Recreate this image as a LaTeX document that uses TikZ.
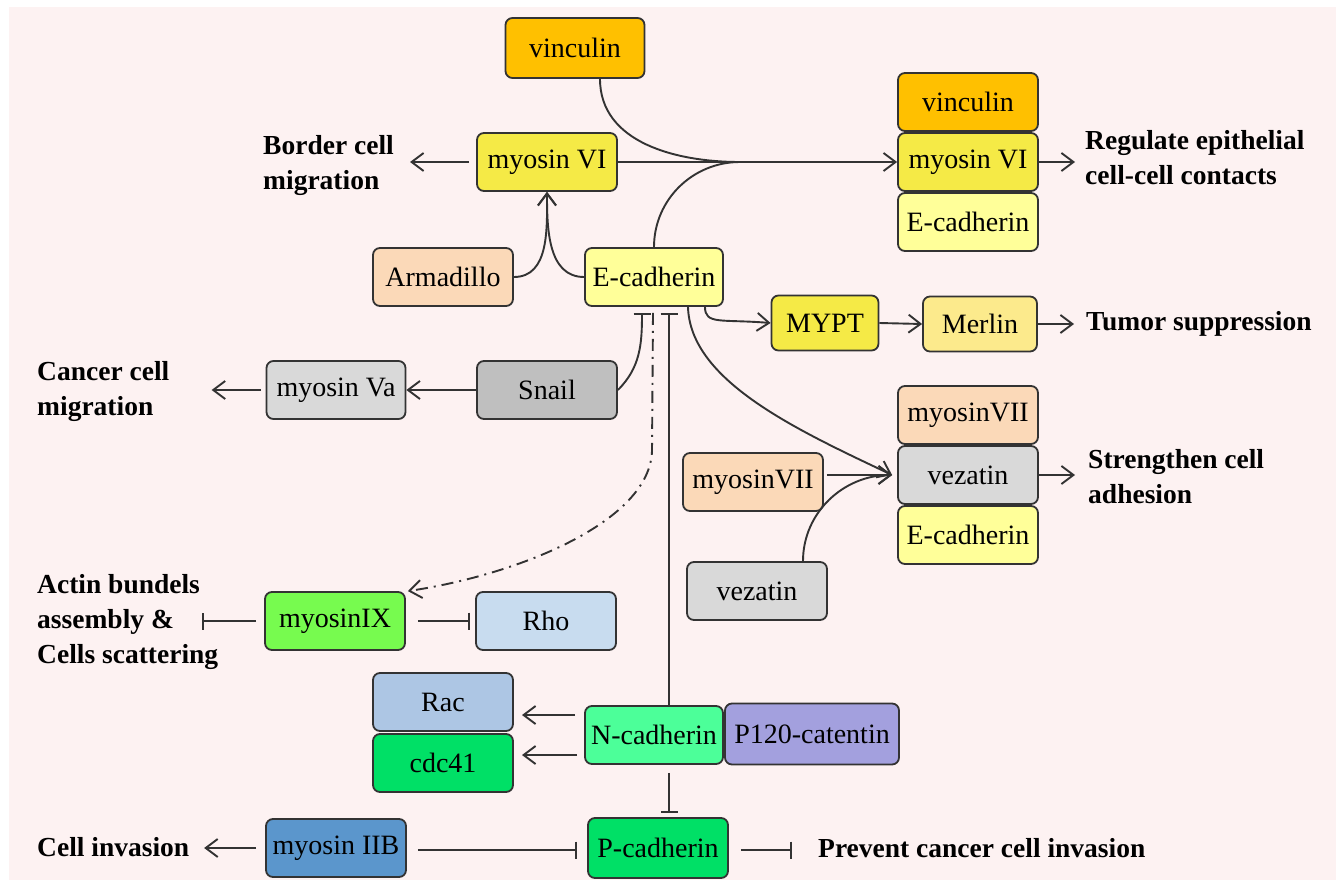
\documentclass[tikz,border=0pt]{standalone}
\usepackage{fontspec}
\setmainfont{Liberation Serif}
\usetikzlibrary{arrows.meta}
\definecolor{bg}{HTML}{FDF2F2}
\definecolor{cVin}{HTML}{FFC000}
\definecolor{cMySix}{HTML}{F5EA46}
\definecolor{cEcad}{HTML}{FFFF99}
\definecolor{cMerlin}{HTML}{FCEA8C}
\definecolor{cPeach}{HTML}{FBD9B8}
\definecolor{cSnail}{HTML}{BFBFBF}
\definecolor{cGray}{HTML}{D9D9D9}
\definecolor{cMyNine}{HTML}{77FB4F}
\definecolor{cRho}{HTML}{C8DCEF}
\definecolor{cRac}{HTML}{ADC6E4}
\definecolor{cGreen}{HTML}{00E066}
\definecolor{cNcad}{HTML}{4CFF99}
\definecolor{cPone}{HTML}{A3A0DE}
\definecolor{cMyIIB}{HTML}{5B96CC}
\definecolor{cLine}{HTML}{333333}
\begin{document}
\begin{tikzpicture}[x=1pt,y=-1pt,
  box/.style={draw=cLine, line width=1.8pt, rounded corners=7pt, minimum width=140pt,
    minimum height=58pt, inner sep=0pt, font=\fontsize{28}{30}\selectfont},
  lbl/.style={font=\fontsize{27.5}{35}\selectfont\bfseries, align=left, anchor=west, inner sep=0pt},
  conn/.style={line width=1.9pt, draw=cLine},
  ar/.style={conn, -{Straight Barb[length=12pt,width=18pt]}},
  inh/.style={conn, -{Bar[width=17pt]}},
  dd/.style={conn, dash pattern=on 12pt off 6pt on 2pt off 6pt, -{Straight Barb[length=12pt,width=18pt]}}]
\useasboundingbox (0,0) rectangle (1336,880);
\fill[white] (0,0) rectangle (1336,880);
\fill[bg] (9,7) rectangle (1336,880);

% boxes
\node[box, fill=cVin, minimum height=60pt, minimum width=139pt] (vin1) at (575,48) {vinculin};
\node[box, fill=cMySix] (my6) at (547,162) {myosin VI};
\node[box, fill=cPeach] (arm) at (443,277) {Armadillo};
\node[box, fill=cEcad, minimum width=138pt] (ecad) at (654,277) {E-cadherin};
\node[box, fill=cVin] (vin2) at (968,102) {vinculin};
\node[box, fill=cMySix] (my6b) at (968,162) {myosin VI};
\node[box, fill=cEcad] (ecad2) at (968,222) {E-cadherin};
\node[box, fill=cMySix, minimum width=107pt, minimum height=55pt] (mypt) at (825,323) {MYPT};
\node[box, fill=cMerlin, minimum width=114pt, minimum height=55pt] (merlin) at (980,324) {Merlin};
\node[box, fill=cSnail] (snail) at (547,390) {Snail};
\node[box, fill=cGray, minimum width=139pt] (myva) at (336,390) {myosin Va};
\node[box, fill=cPeach] (m7a) at (753,482) {myosinVII};
\node[box, fill=cGray] (vez1) at (757,591) {vezatin};
\node[box, fill=cPeach] (m7b) at (968,415) {myosinVII};
\node[box, fill=cGray] (vez2) at (968,475) {vezatin};
\node[box, fill=cEcad] (ecad3) at (968,535) {E-cadherin};
\node[box, fill=cMyNine] (m9) at (335,621) {myosinIX};
\node[box, fill=cRho] (rho) at (546,621) {Rho};
\node[box, fill=cRac] (rac) at (443,702) {Rac};
\node[box, fill=cGreen] (cdc) at (443,763) {cdc41};
\node[box, fill=cNcad, minimum width=138pt] (ncad) at (654,735) {N-cadherin};
\node[box, fill=cPone, minimum width=174pt, minimum height=61pt] (p120) at (812,734) {P120-catentin};
\node[box, fill=cGreen, minimum height=60pt] (pcad) at (658,848) {P-cadherin};
\node[box, fill=cMyIIB] (m2b) at (336,848) {myosin IIB};

% labels
\node[lbl] (tborder) at (263,165) {Border cell\\migration};
\node[lbl] (treg) at (1085,158) {Regulate epithelial\\cell-cell contacts};
\node[lbl] (ttumor) at (1086,324) {Tumor suppression};
\node[lbl] (tcancer) at (37,391) {Cancer cell\\migration};
\node[lbl] (tstrength) at (1088,477) {Strengthen cell\\adhesion};
\node[lbl] (tactin) at (37,622) {Actin bundels\\assembly \&\\Cells scattering};
\node[lbl] (tinv) at (37,847) {Cell invasion};
\node[lbl] (tprev) at (818,848) {Prevent cancer cell invasion};

% helper coordinates
\coordinate (J) at (740,162);
\coordinate (borderEnd) at (410,162);
\coordinate (regEnd) at (1075,162);
\coordinate (strEnd) at (1075,475);
\coordinate (nRacS) at (575,715);
\coordinate (nRacE) at (522,715);
\coordinate (nCdcS) at (577,755);
\coordinate (nCdcE) at (522,755);

% connectors
\draw[conn] ([xshift=25pt]vin1.south) to[out=-90,in=180] (J);
\draw[conn] (ecad.north) to[out=90,in=180] (J);
\draw[ar] (my6.east) -- (my6b.west);
\draw[ar] ([xshift=-7pt]my6.west) -- (borderEnd);
\draw[ar] (arm.east) to[out=0,in=-90] (my6.south);
\draw[ar] (ecad.west) to[out=180,in=-90] (my6.south);
\draw[ar] (my6b.east) -- (regEnd);

\draw[ar] ([xshift=51pt]ecad.south) .. controls ([xshift=51pt,yshift=-18pt]ecad.south) and ([xshift=-50pt,yshift=4pt]mypt.west) .. (mypt.west);
\draw[ar] (mypt.east) -- (merlin.west);
\draw[ar] (merlin.east) -- ([xshift=-12pt]ttumor.west);

\draw[ar] (snail.west) -- (myva.east);
\draw[ar] ([xshift=-5pt]myva.west) -- ([xshift=-54pt]myva.west);
\draw[inh] (snail.east) to[out=45,in=-90] ([xshift=-12pt,yshift=-6pt]ecad.south);

\draw[dd] ([xshift=-1pt,yshift=-6pt]ecad.south) -- ([xshift=-2pt,yshift=-144pt]ecad.south)
   .. controls ([xshift=-4pt,yshift=-214pt]ecad.south) and ([xshift=115pt,yshift=17pt]m9.north east) .. ([xshift=2pt]m9.north east);
\draw[inh] ([xshift=15pt]ncad.north) -- ([xshift=15pt,yshift=-6pt]ecad.south);

\draw[ar] ([xshift=34pt]ecad.south) .. controls ([xshift=36pt,yshift=-74pt]ecad.south) and ([xshift=-100pt,yshift=45pt]vez2.west) .. ([xshift=-5pt]vez2.west);
\draw[ar] ([xshift=3pt,yshift=7pt]m7a.east) -- ([xshift=-5pt]vez2.west);
\draw[ar] ([xshift=46pt]vez1.north) to[out=90,in=180] ([xshift=-5pt]vez2.west);
\draw[ar] (vez2.east) -- (strEnd);

\draw[inh] ([xshift=-8pt]m9.west) -- ([xshift=-62pt]m9.west);
\draw[inh] ([xshift=12pt]m9.east) -- ([xshift=-5pt]rho.west);

\draw[ar] (nRacS) -- (nRacE);
\draw[ar] (nCdcS) -- (nCdcE);
\draw[inh] ([xshift=15pt,yshift=-8pt]ncad.south) -- ([xshift=11pt,yshift=4pt]pcad.north);

\draw[inh] ([xshift=11pt,yshift=-2pt]m2b.east) -- ([xshift=-10pt,yshift=-2pt]pcad.west);
\draw[inh] ([xshift=12pt,yshift=-2pt]pcad.east) -- ([xshift=-26pt,yshift=-2pt]tprev.west);
\draw[ar] ([xshift=-9pt]m2b.west) -- ([xshift=-61pt]m2b.west);
\end{tikzpicture}
\end{document}
